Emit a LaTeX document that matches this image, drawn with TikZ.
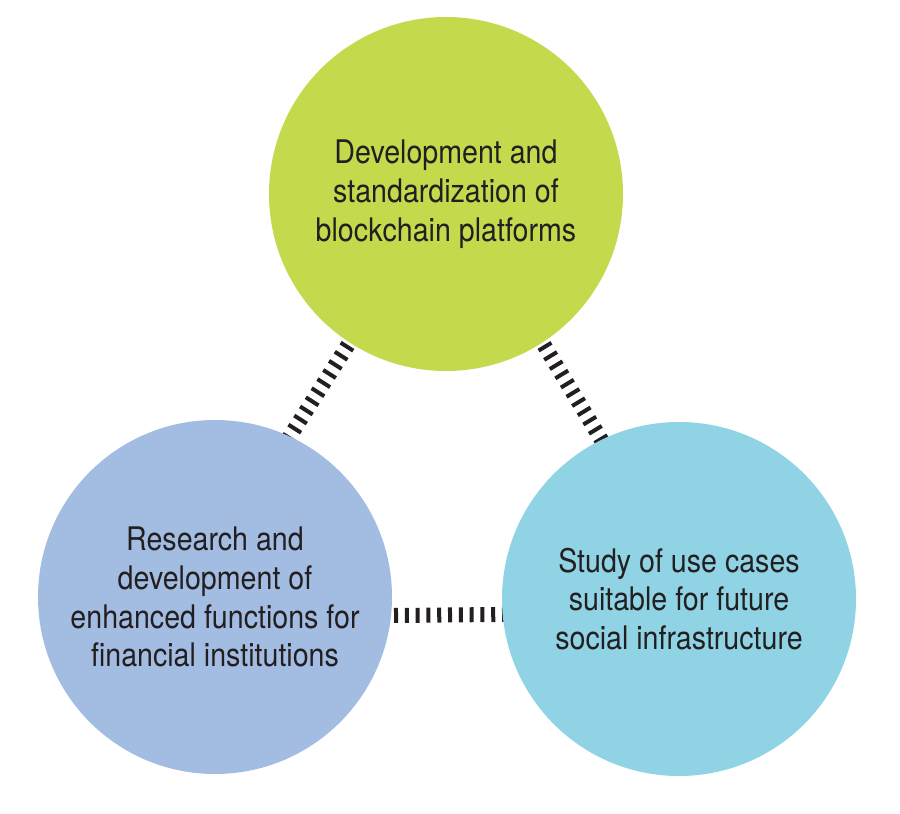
\documentclass[tikz,border=0pt]{standalone}
\usepackage{fontspec}
\setmainfont[FakeStretch=0.88]{TeX Gyre Heros}
\usetikzlibrary{backgrounds}
\definecolor{cgreen}{HTML}{C4D94C}
\definecolor{cblue}{HTML}{A3BCE2}
\definecolor{ccyan}{HTML}{8FD3E4}
\definecolor{ctext}{HTML}{231F20}
\tikzset{
  bubble/.style={circle, minimum size=354pt, inner sep=0pt, align=center,
    text=ctext, font=\fontsize{32.5}{38.8}\selectfont},
  link/.style={draw=ctext, line width=15pt, dash pattern=on 4pt off 6.8pt,
    shorten <=-8pt, shorten >=-8pt}
}
\begin{document}
\begin{tikzpicture}[x=1pt,y=-1pt]
\useasboundingbox (0,0) rectangle (900,814);
\node[bubble, fill=cgreen] (top) at (446,194) {Development and\\standardization of\\blockchain platforms};
\node[bubble, fill=cblue] (left) at (215,597) {Research and\\development of\\enhanced functions for\\financial institutions};
\node[bubble, fill=ccyan] (right) at (679,599) {Study of use cases\\suitable for future\\social infrastructure};
\begin{pgfonlayer}{background}
\draw[link] (top.237) -- (left.65);
\draw[link] (top.303) -- (right.116);
\draw[link] (left.-6.5) -- (right.185.8);
\end{pgfonlayer}
\end{tikzpicture}
\end{document}
